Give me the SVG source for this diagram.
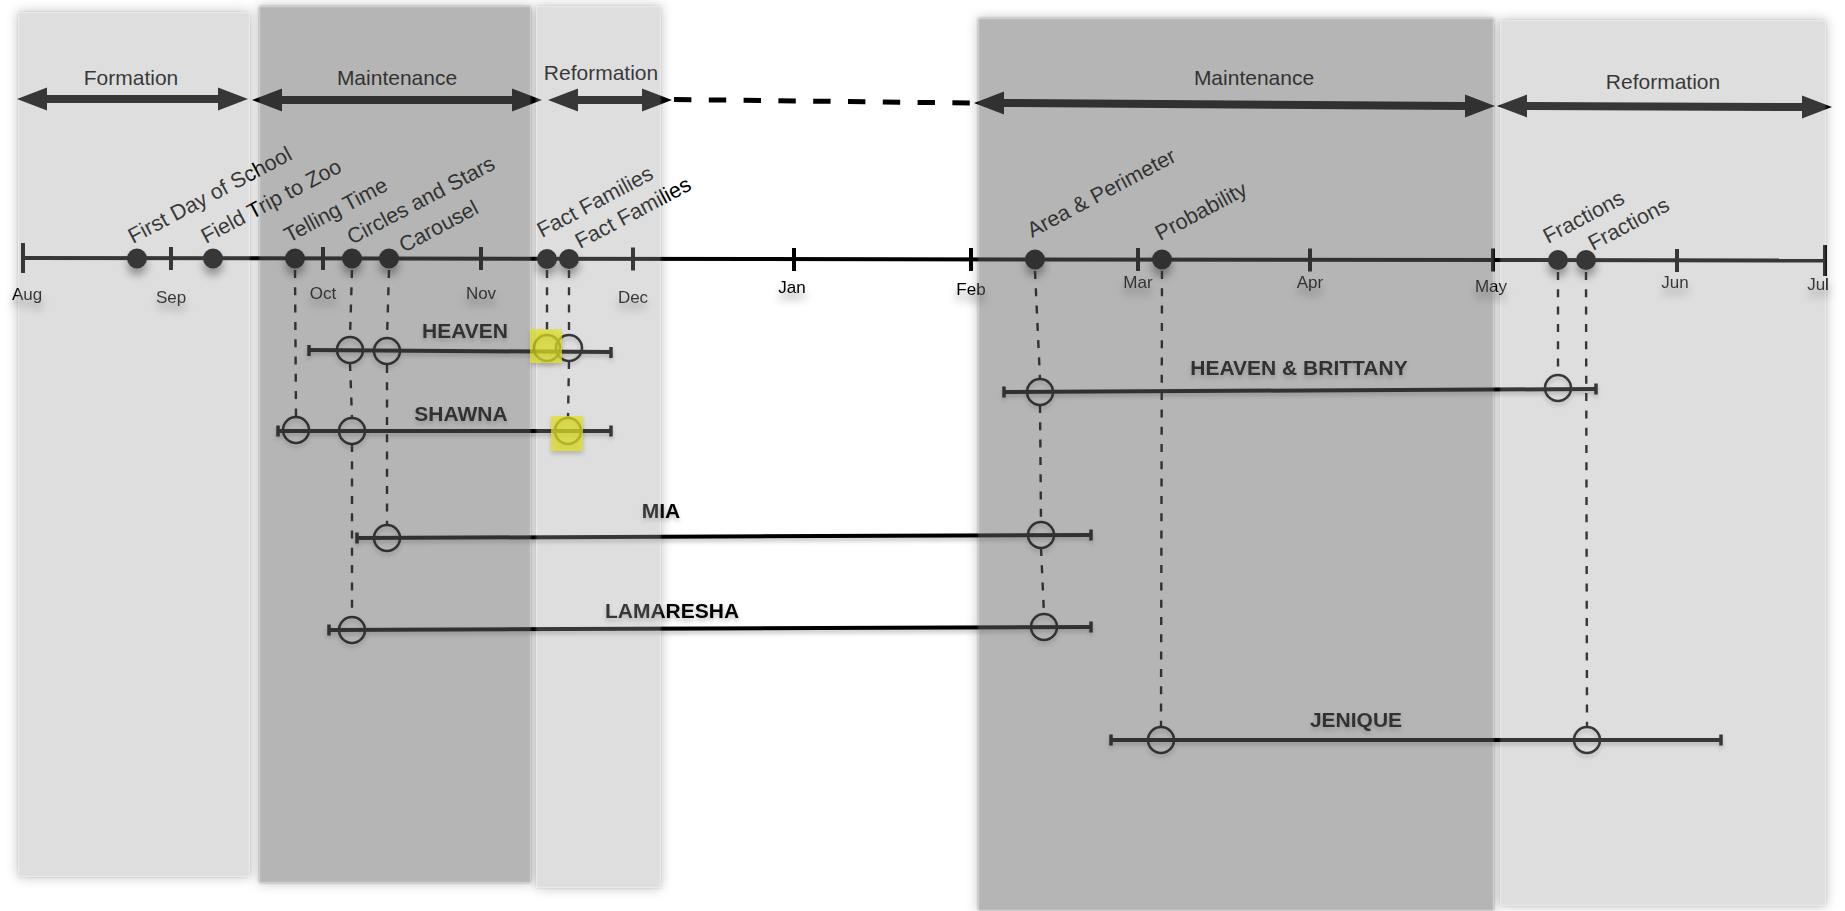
<svg xmlns="http://www.w3.org/2000/svg" width="1845" height="911" viewBox="0 0 1845 911">
<defs>
<style>
text{font-family:"Liberation Sans",Arial,sans-serif;fill:#000}
.ph{font-size:21px;text-anchor:middle}
.ev{font-size:21.5px}
.mo{font-size:17px;text-anchor:middle}
.st{font-size:21px;font-weight:bold;text-anchor:middle}
.arrow{fill:#000}
.axis{stroke:#000;stroke-width:4;fill:none}
.tick{stroke:#000;stroke-width:4}
.sl{stroke:#000;stroke-width:4;fill:none}
.cap{stroke:#000;stroke-width:3.5}
.ring{fill:none;stroke:#000;stroke-width:2.5}
.dash{stroke:#000;stroke-width:2.4;stroke-dasharray:8 9.3;fill:none}
.link{stroke:#000;stroke-width:5;stroke-dasharray:17.4 17.4;fill:none}
.dot{fill:#000}
.lt{fill:#9f9f9f;fill-opacity:0.345}
.dk{fill:#646464;fill-opacity:0.482}
.hl{fill:#e0e022;fill-opacity:0.7}
.shd{fill:#000;fill-opacity:0.25}
</style>
<filter id="sh" x="-50%" y="-50%" width="200%" height="260%">
<feDropShadow dx="0" dy="7" stdDeviation="4" flood-color="#000" flood-opacity="0.45"/>
</filter>
<filter id="shs" x="-50%" y="-50%" width="200%" height="250%">
<feDropShadow dx="0" dy="3" stdDeviation="2" flood-color="#000" flood-opacity="0.25"/>
</filter>
<filter id="blur" x="-10%" y="-10%" width="120%" height="120%">
<feGaussianBlur stdDeviation="6"/>
</filter>
<filter id="soft" x="-5%" y="-5%" width="110%" height="110%">
<feGaussianBlur stdDeviation="1.2"/>
</filter>
<mask id="outside" maskUnits="userSpaceOnUse" x="0" y="0" width="1845" height="911">
<rect x="0" y="0" width="1845" height="911" fill="#fff"/>
<rect x="18" y="12" width="232" height="865" fill="#000"/>
<rect x="259" y="6" width="272" height="877" fill="#000"/>
<rect x="536" y="6" width="125" height="882" fill="#000"/>
<rect x="978" y="18" width="516" height="893" fill="#000"/>
<rect x="1500" y="20" width="326" height="886" fill="#000"/>
</mask>
</defs>

<rect x="0" y="0" width="1845" height="911" fill="#fff"/>

<g id="panel-shadows" mask="url(#outside)" filter="url(#blur)">
<rect class="shd" x="18" y="12" width="232" height="865"/>
<rect class="shd" x="259" y="6" width="272" height="877"/>
<rect class="shd" x="536" y="6" width="125" height="882"/>
<rect class="shd" x="978" y="18" width="516" height="893"/>
<rect class="shd" x="1500" y="20" width="326" height="886"/>
</g>

<g id="phase-formation">
<polygon class="arrow" points="17,99 47,87.5 47,95 218,95 218,87.5 248,99 218,110.5 218,103 47,103 47,110.5"/>
<text class="ph" x="131" y="85">Formation</text>
</g>
<g id="phase-maintenance-1">
<polygon class="arrow" points="252,100 282,88.5 282,96 512,96 512,88.5 542,100 512,111.5 512,104 282,104 282,111.5"/>
<text class="ph" x="397" y="85">Maintenance</text>
</g>
<g id="phase-reformation-1">
<polygon class="arrow" points="548,100 578,88.5 578,96 642,96 642,88.5 672,100 642,111.5 642,104 578,104 578,111.5"/>
<text class="ph" x="601" y="80">Reformation</text>
</g>
<g id="phase-maintenance-2">
<polygon class="arrow" points="974,103 1004,91.5 1004,99 1465,102 1465,94.5 1495,106 1465,117.5 1465,110 1004,107 1004,114.5"/>
<text class="ph" x="1254" y="85">Maintenance</text>
</g>
<g id="phase-reformation-2">
<polygon class="arrow" points="1497,106 1527,94.5 1527,102 1802,103 1802,95.5 1832,107 1802,118.5 1802,111 1527,110 1527,117.5"/>
<text class="ph" x="1663" y="89">Reformation</text>
</g>

<g id="timeline">
<line class="axis" x1="23" y1="258" x2="1825" y2="260.5"/>
<line class="tick" x1="23" y1="243" x2="23" y2="273"/>
<line class="tick" x1="171" y1="247" x2="171" y2="270"/>
<line class="tick" x1="323" y1="247" x2="323" y2="270"/>
<line class="tick" x1="481" y1="247" x2="481" y2="270"/>
<line class="tick" x1="633" y1="247.5" x2="633" y2="270.5"/>
<line class="tick" x1="794" y1="248" x2="794" y2="271"/>
<line class="tick" x1="971" y1="248" x2="971" y2="271"/>
<line class="tick" x1="1138" y1="248" x2="1138" y2="271"/>
<line class="tick" x1="1310" y1="248.5" x2="1310" y2="271.5"/>
<line class="tick" x1="1493" y1="248.5" x2="1493" y2="271.5"/>
<line class="tick" x1="1677" y1="249" x2="1677" y2="272"/>
<line class="tick" x1="1825" y1="245" x2="1825" y2="276"/>
<g filter="url(#sh)">
<text class="mo" x="27" y="300">Aug</text>
<text class="mo" x="171" y="303">Sep</text>
<text class="mo" x="323" y="299">Oct</text>
<text class="mo" x="481" y="299">Nov</text>
<text class="mo" x="633" y="303">Dec</text>
<text class="mo" x="792" y="293">Jan</text>
<text class="mo" x="971" y="295">Feb</text>
<text class="mo" x="1138" y="288">Mar</text>
<text class="mo" x="1310" y="288">Apr</text>
<text class="mo" x="1491" y="292">May</text>
<text class="mo" x="1675" y="288">Jun</text>
<text class="mo" x="1818" y="290">Jul</text>
</g>
</g>

<g id="event-first-day-of-school">
<circle class="dot" cx="137" cy="258.5" r="10" filter="url(#sh)"/>
<text class="ev" transform="translate(133,244) rotate(-28)">First Day of School</text>
</g>
<g id="event-field-trip-to-zoo">
<circle class="dot" cx="213" cy="258.5" r="10" filter="url(#sh)"/>
<text class="ev" transform="translate(206,244) rotate(-28)">Field Trip to Zoo</text>
</g>
<g id="event-telling-time">
<circle class="dot" cx="295" cy="258.5" r="10" filter="url(#sh)"/>
<text class="ev" transform="translate(289,243) rotate(-28)">Telling Time</text>
</g>
<g id="event-circles-and-stars">
<circle class="dot" cx="352" cy="258.5" r="10" filter="url(#sh)"/>
<text class="ev" transform="translate(352,245) rotate(-28)">Circles and Stars</text>
</g>
<g id="event-carousel">
<circle class="dot" cx="389" cy="258.5" r="10" filter="url(#sh)"/>
<text class="ev" transform="translate(404,253) rotate(-28)">Carousel</text>
</g>
<g id="event-fact-families-1">
<circle class="dot" cx="547" cy="259" r="10" filter="url(#sh)"/>
<text class="ev" transform="translate(542,238) rotate(-28)">Fact Families</text>
</g>
<g id="event-fact-families-2">
<circle class="dot" cx="569" cy="259" r="10" filter="url(#sh)"/>
<text class="ev" transform="translate(580,249) rotate(-28)">Fact Families</text>
</g>
<g id="event-area-perimeter">
<circle class="dot" cx="1035" cy="259.5" r="10" filter="url(#sh)"/>
<text class="ev" transform="translate(1032,238) rotate(-28)">Area &amp; Perimeter</text>
</g>
<g id="event-probability">
<circle class="dot" cx="1162" cy="259.5" r="10" filter="url(#sh)"/>
<text class="ev" transform="translate(1160,241) rotate(-28)">Probability</text>
</g>
<g id="event-fractions-1">
<circle class="dot" cx="1558" cy="260" r="10" filter="url(#sh)"/>
<text class="ev" transform="translate(1548,244) rotate(-28)">Fractions</text>
</g>
<g id="event-fractions-2">
<circle class="dot" cx="1586" cy="260" r="10" filter="url(#sh)"/>
<text class="ev" transform="translate(1593,251) rotate(-28)">Fractions</text>
</g>

<g id="connectors">
<line class="link" x1="674" y1="99.5" x2="970" y2="103"/>
<line class="dash" x1="295" y1="270" x2="296" y2="417"/>
<line class="dash" x1="352" y1="270" x2="350" y2="337"/>
<line class="dash" x1="350" y1="363" x2="352" y2="418"/>
<line class="dash" x1="352" y1="444" x2="352" y2="617"/>
<line class="dash" x1="389" y1="270" x2="387" y2="339"/>
<line class="dash" x1="387" y1="365" x2="387" y2="525"/>
<line class="dash" x1="547" y1="270" x2="547" y2="335"/>
<line class="dash" x1="569" y1="270" x2="569" y2="335"/>
<line class="dash" x1="569" y1="361" x2="568" y2="418"/>
<line class="dash" x1="1035" y1="271" x2="1040" y2="379"/>
<line class="dash" x1="1040" y1="405" x2="1041" y2="522"/>
<line class="dash" x1="1041" y1="548" x2="1044" y2="614"/>
<line class="dash" x1="1162" y1="271" x2="1161" y2="727"/>
<line class="dash" x1="1558" y1="272" x2="1558" y2="375"/>
<line class="dash" x1="1586" y1="272" x2="1587" y2="727"/>
</g>

<g id="student-heaven" filter="url(#shs)">
<line class="sl" x1="309" y1="350" x2="611" y2="352"/>
<line class="cap" x1="309" y1="345" x2="309" y2="356"/>
<line class="cap" x1="611" y1="347" x2="611" y2="358"/>
<circle class="ring" cx="350" cy="350" r="13"/>
<circle class="ring" cx="387" cy="351" r="13"/>
<circle class="ring" cx="547" cy="348" r="13"/>
<circle class="ring" cx="569" cy="348" r="13"/>
<text class="st" x="465" y="338">HEAVEN</text>
</g>
<g id="student-shawna" filter="url(#shs)">
<line class="sl" x1="278" y1="431" x2="611" y2="431"/>
<line class="cap" x1="278" y1="425.5" x2="278" y2="436.5"/>
<line class="cap" x1="611" y1="425.5" x2="611" y2="436.5"/>
<circle class="ring" cx="296" cy="430" r="13"/>
<circle class="ring" cx="352" cy="431" r="13"/>
<circle class="ring" cx="568" cy="431" r="13"/>
<text class="st" x="461" y="421">SHAWNA</text>
</g>
<g id="student-mia" filter="url(#shs)">
<line class="sl" x1="357" y1="538" x2="1091" y2="535"/>
<line class="cap" x1="357" y1="532.5" x2="357" y2="543.5"/>
<line class="cap" x1="1091" y1="529.5" x2="1091" y2="540.5"/>
<circle class="ring" cx="387" cy="538" r="13"/>
<circle class="ring" cx="1041" cy="535" r="13"/>
<text class="st" x="661" y="518">MIA</text>
</g>
<g id="student-lamaresha" filter="url(#shs)">
<line class="sl" x1="329" y1="630" x2="1091" y2="627"/>
<line class="cap" x1="329" y1="624.5" x2="329" y2="635.5"/>
<line class="cap" x1="1091" y1="621.5" x2="1091" y2="632.5"/>
<circle class="ring" cx="352" cy="630" r="13"/>
<circle class="ring" cx="1044" cy="627" r="13"/>
<text class="st" x="672" y="618">LAMARESHA</text>
</g>
<g id="student-heaven-brittany" filter="url(#shs)">
<line class="sl" x1="1004" y1="392" x2="1596" y2="389"/>
<line class="cap" x1="1004" y1="386.5" x2="1004" y2="397.5"/>
<line class="cap" x1="1596" y1="383.5" x2="1596" y2="394.5"/>
<circle class="ring" cx="1040" cy="392" r="13"/>
<circle class="ring" cx="1558" cy="388" r="13"/>
<text class="st" x="1299" y="375">HEAVEN &amp; BRITTANY</text>
</g>
<g id="student-jenique" filter="url(#shs)">
<line class="sl" x1="1111" y1="740" x2="1721" y2="740"/>
<line class="cap" x1="1111" y1="734.5" x2="1111" y2="745.5"/>
<line class="cap" x1="1721" y1="734.5" x2="1721" y2="745.5"/>
<circle class="ring" cx="1161" cy="740" r="13"/>
<circle class="ring" cx="1587" cy="740" r="13"/>
<text class="st" x="1356" y="727">JENIQUE</text>
</g>

<g id="panels" filter="url(#soft)">
<rect class="lt" x="18" y="12" width="232" height="865"/>
<rect class="dk" x="259" y="6" width="272" height="877"/>
<rect class="lt" x="536" y="6" width="125" height="882"/>
<rect class="dk" x="978" y="18" width="516" height="893"/>
<rect class="lt" x="1500" y="20" width="326" height="886"/>
</g>

<g id="highlights" filter="url(#shs)">
<rect class="hl" x="530" y="329" width="32" height="34"/>
<rect class="hl" x="551" y="416" width="32" height="35"/>
</g>
</svg>
